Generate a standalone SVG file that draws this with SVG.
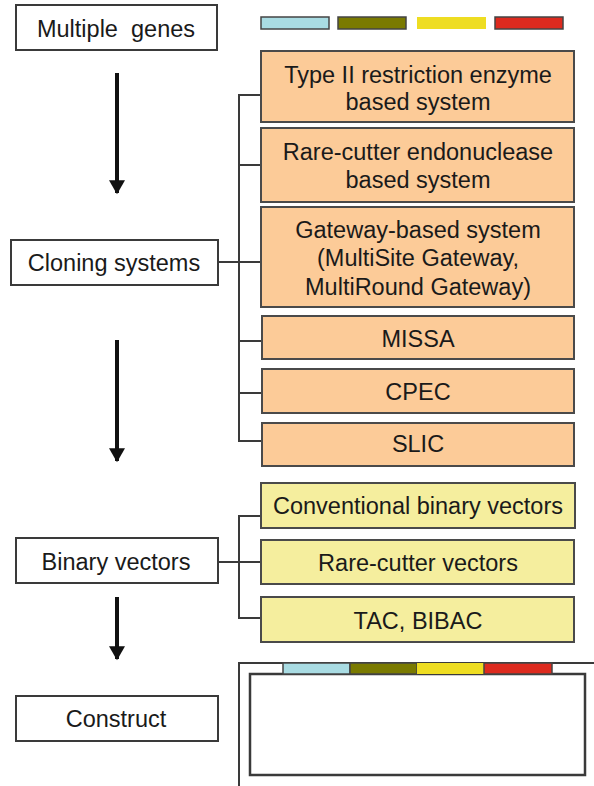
<svg xmlns="http://www.w3.org/2000/svg" width="594" height="786" viewBox="0 0 594 786">
<style>
  text { font-family: "Liberation Sans", Arial, sans-serif; font-size: 23.5px; fill: #1a1a1a; text-anchor: middle; }
  .wbox { fill: #ffffff; stroke: #3a3a3a; stroke-width: 2; }
  .obox { fill: #FCCB98; stroke: #4a4a4a; stroke-width: 2; }
  .ybox { fill: #F5EE9E; stroke: #4a4a4a; stroke-width: 2; }
  .conn { fill: none; stroke: #3a3a3a; stroke-width: 2; }
  .arrow { stroke: #111111; stroke-width: 4; fill: none; }
  .bar { stroke: #444; stroke-width: 1.5; }
</style>
<defs>
  <marker id="ah" markerWidth="4" markerHeight="4" refX="3.2" refY="2" orient="auto" markerUnits="strokeWidth">
    <path d="M0,0 L3.5,2 L0,4 Z" fill="#111111"/>
  </marker>
</defs>

<g id="connectors">
  <line class="arrow" x1="117" y1="73" x2="117" y2="193" marker-end="url(#ah)"/>
  <line class="arrow" x1="117" y1="340" x2="117" y2="461" marker-end="url(#ah)"/>
  <line class="arrow" x1="117" y1="597" x2="117" y2="659" marker-end="url(#ah)"/>
  <path class="conn" d="M262,95 H239 V441 H262 M218,262 H262 M239,165 H262 M239,341 H262 M239,393 H262"/>
  <path class="conn" d="M262,516 H239 V618 H262 M218,562 H262"/>
</g>

<g id="multiple-genes">
  <rect class="wbox" x="16" y="5" width="201" height="45"/>
  <text x="116" y="37" xml:space="preserve">Multiple  genes</text>
</g>
<g id="gene-bars">
  <rect class="bar" x="261" y="17" width="68" height="12" fill="#A9DCE3"/>
  <rect class="bar" x="338" y="17" width="68" height="12" fill="#7A7A00"/>
  <rect x="417" y="17" width="69" height="12" fill="#EEDD22"/>
  <rect class="bar" x="495" y="17" width="68" height="12" fill="#DD2A1E"/>
</g>

<g id="cloning-systems">
  <rect class="wbox" x="11" y="240" width="207" height="45"/>
  <text x="114" y="271">Cloning systems</text>
</g>
<g id="type2">
  <rect class="obox" x="261" y="51" width="313" height="71"/>
  <text x="418" y="83">Type II restriction enzyme</text>
  <text x="418" y="110">based system</text>
</g>
<g id="rarecutter-endo">
  <rect class="obox" x="261" y="128" width="313" height="74"/>
  <text x="418" y="160">Rare-cutter endonuclease</text>
  <text x="418" y="188">based system</text>
</g>
<g id="gateway">
  <rect class="obox" x="261" y="207" width="313" height="100"/>
  <text x="418" y="238">Gateway-based system</text>
  <text x="418" y="266">(MultiSite Gateway,</text>
  <text x="418" y="295">MultiRound Gateway)</text>
</g>
<g id="missa">
  <rect class="obox" x="262" y="316" width="312" height="43"/>
  <text x="418" y="347">MISSA</text>
</g>
<g id="cpec">
  <rect class="obox" x="262" y="369" width="312" height="44"/>
  <text x="418" y="400">CPEC</text>
</g>
<g id="slic">
  <rect class="obox" x="262" y="423" width="312" height="43"/>
  <text x="418" y="452">SLIC</text>
</g>

<g id="binary-vectors">
  <rect class="wbox" x="16" y="538" width="202" height="45"/>
  <text x="116" y="570">Binary vectors</text>
</g>
<g id="conventional">
  <rect class="ybox" x="261" y="483" width="314" height="45"/>
  <text x="418" y="514">Conventional binary vectors</text>
</g>
<g id="rarecutter-vectors">
  <rect class="ybox" x="261" y="540" width="313" height="44"/>
  <text x="418" y="571">Rare-cutter vectors</text>
</g>
<g id="tac-bibac">
  <rect class="ybox" x="261" y="597" width="313" height="45"/>
  <text x="418" y="629">TAC, BIBAC</text>
</g>

<g id="construct">
  <rect class="wbox" x="16" y="696" width="202" height="45"/>
  <text x="116" y="727">Construct</text>
</g>
<g id="construct-diagram">
  <path class="conn" d="M239,786 V663 H594"/>
  <rect x="250" y="674" width="335" height="101" fill="#ffffff" stroke="#3a3a3a" stroke-width="2.5"/>
  <rect class="bar" x="283" y="663" width="67" height="11" fill="#A9DCE3"/>
  <rect class="bar" x="350" y="663" width="67" height="11" fill="#7A7A00"/>
  <rect x="417" y="663" width="67" height="11" fill="#EEDD22"/>
  <rect class="bar" x="484" y="663" width="68" height="11" fill="#DD2A1E"/>
</g>
</svg>
